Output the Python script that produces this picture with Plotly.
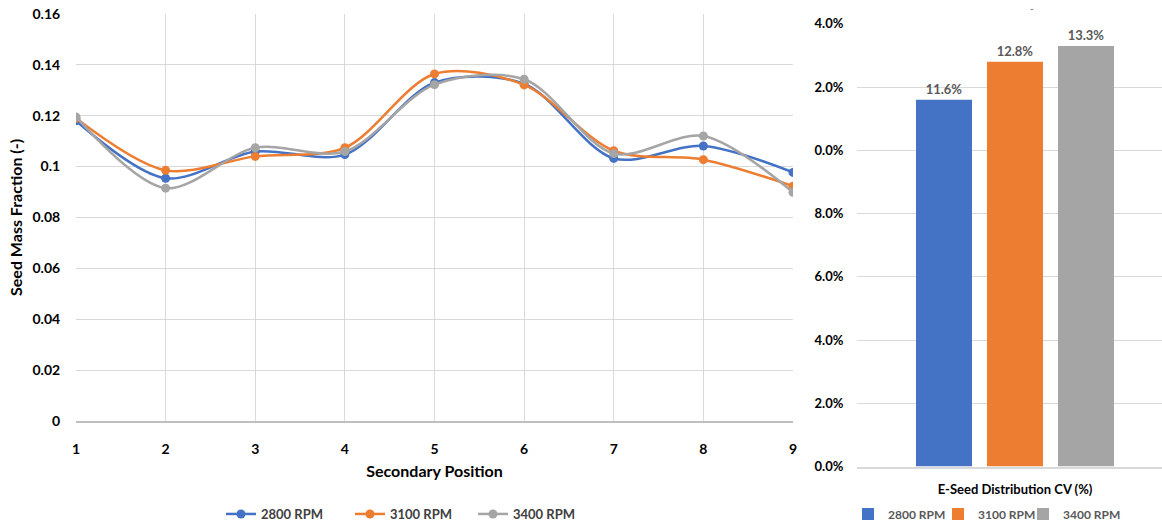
import plotly.graph_objects as go

positions = [1, 2, 3, 4, 5, 6, 7, 8, 9]
rpm_2800 = [0.1180, 0.0954, 0.1059, 0.1047, 0.1330, 0.1325, 0.1032, 0.1081, 0.0977]
rpm_3100 = [0.1190, 0.0985, 0.1040, 0.1074, 0.1364, 0.1321, 0.1062, 0.1027, 0.0923]
rpm_3400 = [0.1195, 0.0915, 0.1074, 0.1059, 0.1322, 0.1343, 0.1051, 0.1120, 0.0899]

series_names = ["2800 RPM", "3100 RPM", "3400 RPM"]
colors = ["#4472C4", "#ED7D31", "#A5A5A5"]

cv_category = ["E-Seed Distribution CV (%)"]
cv_values = [11.6, 12.8, 13.3]

left_yticks = [0, 0.02, 0.04, 0.06, 0.08, 0.1, 0.12, 0.14, 0.16]
left_yticktext = ["0", "0.02", "0.04", "0.06", "0.08", "0.1", "0.12", "0.14", "0.16"]
right_yticks = [0, 2, 4, 6, 8, 10, 12, 14]
right_yticktext = ["0.0%", "2.0%", "4.0%", "6.0%", "8.0%", "0.0%", "2.0%", "4.0%"]

FONT = "Lato"
W, H = 1162, 529


def px(x):
    return x / W


def py(y):
    return (H - y) / H


fig = go.Figure()

line_legends = ["legend7", "legend2", "legend3"]
bar_legends = ["legend4", "legend5", "legend6"]

for name, vals, c, lg in zip(series_names, [rpm_2800, rpm_3100, rpm_3400], colors, line_legends):
    fig.add_trace(go.Scatter(
        x=positions, y=vals, name=name, mode="lines+markers",
        line=dict(color=c, width=2.5, shape="spline", smoothing=0.9),
        marker=dict(color=c, size=9),
        xaxis="x", yaxis="y", legend=lg,
    ))

for name, v, c, lg in zip(series_names, cv_values, colors, bar_legends):
    fig.add_trace(go.Bar(
        x=cv_category, y=[v], name=name, marker=dict(color=c, line=dict(width=0)),
        text=[f"{v:.1f}%"], textposition="outside", cliponaxis=False,
        textfont=dict(family=FONT, size=13, color="#595959", weight="bold"),
        xaxis="x2", yaxis="y2", legend=lg,
    ))

grid = "#D9D9D9"
layout = dict(
    width=W, height=H,
    margin=dict(l=0, r=0, t=0, b=0),
    paper_bgcolor="white", plot_bgcolor="white",
    font=dict(family=FONT, color="#000000", size=13),
    barmode="group", bargap=0.2755, bargroupgap=0.211,
    xaxis=dict(
        domain=[px(76), px(793)], range=[1, 9], tickvals=positions,
        showgrid=True, gridcolor=grid, gridwidth=1, zeroline=False,
        showline=True, linecolor="#BFBFBF", linewidth=1.5,
        tickfont=dict(family=FONT, size=14, color="#000000", weight="bold"),
        ticks="outside", ticklen=14, tickcolor="rgba(0,0,0,0)",
        title=dict(text="Secondary Position", standoff=10,
                   font=dict(family=FONT, size=16, color="#000000", weight="bold")),
        anchor="y", automargin=False,
    ),
    yaxis=dict(
        domain=[py(425), py(14)], range=[0, 0.16001],
        tickvals=left_yticks, ticktext=left_yticktext,
        showgrid=True, gridcolor=grid, gridwidth=1, zeroline=False,
        tickfont=dict(family=FONT, size=14, color="#000000", weight="bold"),
        ticks="outside", ticklen=12, tickcolor="rgba(0,0,0,0)",
        title=dict(text="Seed Mass Fraction (-)", standoff=5,
                   font=dict(family=FONT, size=16, color="#000000", weight="bold")),
        anchor="x", automargin=False,
    ),
    xaxis2=dict(
        domain=[px(857), 1.0], range=[-0.5374, 0.5], type="category",
        showgrid=False, zeroline=False,
        showline=True, linecolor="#D9D9D9", linewidth=1.5,
        tickfont=dict(family=FONT, size=13, color="#000000", weight="bold"),
        ticks="outside", ticklen=10, tickcolor="rgba(0,0,0,0)",
        anchor="y2", automargin=False,
    ),
    yaxis2=dict(
        domain=[py(471), py(24)], range=[0, 14.001],
        tickvals=right_yticks, ticktext=right_yticktext,
        showgrid=True, gridcolor=grid, gridwidth=1, zeroline=False,
        tickfont=dict(family=FONT, size=13, color="#000000", weight="bold"),
        ticks="outside", ticklen=10, tickcolor="rgba(0,0,0,0)",
        anchor="x2", automargin=False,
    ),
    annotations=[dict(text="-", x=px(1032), y=1.0, xref="paper", yref="paper",
                      xanchor="center", yanchor="top", showarrow=False,
                      font=dict(family=FONT, size=10, color="#595959"))],
)

line_text_x = [261, 390, 513]
bar_text_x = [888, 978, 1063]
for lg, xt in zip(line_legends, line_text_x):
    layout[lg] = dict(
        orientation="h", x=px(xt - 40), y=py(519), xanchor="left", yanchor="middle",
        font=dict(family=FONT, size=13, color="#404040", weight="bold"),
        bgcolor="rgba(0,0,0,0)", itemwidth=30,
    )
for lg, xt in zip(bar_legends, bar_text_x):
    layout[lg] = dict(
        orientation="h", x=px(xt - 40), y=py(519), xanchor="left", yanchor="middle",
        font=dict(family=FONT, size=12, color="#595959", weight="bold"),
        bgcolor="rgba(0,0,0,0)", itemwidth=30,
    )

fig.update_layout(**layout)
fig.write_html(
    "out.html",
    config={"displayModeBar": False},
    post_script="document.body.style.margin='0';document.body.style.overflow='hidden';",
)
